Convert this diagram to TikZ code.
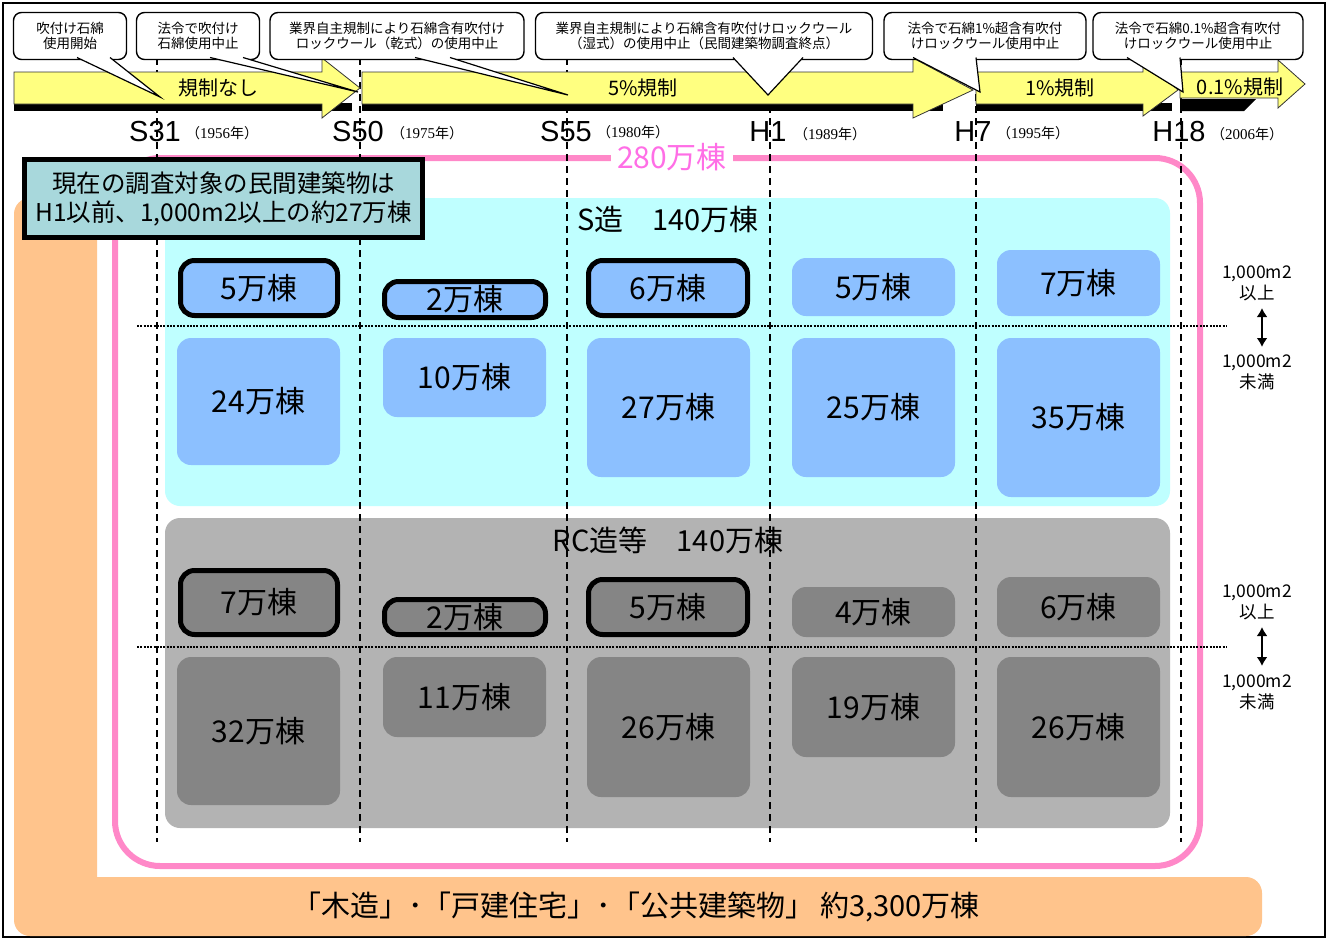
\documentclass[tikz,border=0pt]{standalone}
\usepackage{fontspec}
\setmainfont{Noto Sans CJK JP}
\newfontfamily\lat{Liberation Sans}
\newfontfamily\ser{Liberation Serif}
\usetikzlibrary{arrows.meta}
\definecolor{yel}{HTML}{FFFF80}
\definecolor{cyanbg}{HTML}{BFFFFF}
\definecolor{blueb}{HTML}{8CC0FF}
\definecolor{graybg}{HTML}{B3B3B3}
\definecolor{grayd}{HTML}{858585}
\definecolor{orangebg}{HTML}{FFC48C}
\definecolor{pinkline}{HTML}{FF88C8}
\definecolor{pinktxt}{HTML}{FF6EE6}
\definecolor{tealbox}{HTML}{A8D8DC}
\newcommand{\yrtxt}[1]{（{\ser\fontsize{15}{16}\selectfont #1}年）}
\begin{document}
\begin{tikzpicture}[x=1pt,y=-1pt,
  callout/.style={draw=black, fill=white, line width=1.4, rounded corners=8, inner sep=0, align=center, font=\fontsize{13.5}{15.5}\selectfont},
  ptr/.style={draw=black, line width=1.2},
  arr/.style={fill=yel, draw=black!80, line width=0.8},
  shad/.style={fill=black},
  arrlbl/.style={font=\fontsize{20}{22}\selectfont, inner sep=0},
  era/.style={font=\lat\fontsize{29}{30}\selectfont, inner sep=0},
  yr/.style={font=\fontsize{14}{15}\selectfont, inner sep=0, anchor=west},
  vline/.style={black, line width=1.6, dash pattern=on 7 off 5},
  hline/.style={black, line width=1.4, dash pattern=on 2 off 1.3},
  sb/.style={fill=blueb, rounded corners=14, inner sep=0, font=\fontsize{30}{32}\selectfont},
  sbk/.style={sb, draw=black, line width=5},
  rb/.style={fill=grayd, rounded corners=14, inner sep=0, font=\fontsize{30}{32}\selectfont},
  rbk/.style={rb, draw=black, line width=5},
  side/.style={align=center, inner sep=0, font=\fontsize{17.5}{21}\selectfont},
  dbl/.style={{Latex[length=9,width=11]}-{Latex[length=9,width=11]}, line width=2.4}
]
\useasboundingbox (0,0) rectangle (1328,940);
\fill[white] (0,0) rectangle (1328,940);
\draw[line width=1.2] (3,3) rectangle (1325,937);

% orange L region
\fill[orangebg] (97,877) -- (97,198) [rounded corners=16] -- (14,198) -- (14,936) -- (1262,936) -- (1262,877) [sharp corners] -- cycle;
\node[inner sep=0, font=\fontsize{29}{31}\selectfont] (bottomtxt) at (636,907) {「木造」･「戸建住宅」･「公共建築物」 約3,300万棟};

% pink frame
\draw[pinkline, line width=6, rounded corners=45] (115,158) rectangle (1200,866);

% cyan and gray regions
\fill[cyanbg, rounded corners=15] (165,198) rectangle (1170,506);
\fill[graybg, rounded corners=15] (165,518) rectangle (1170,828);
\node[inner sep=0, font=\fontsize{29}{31}\selectfont] (stitle) at (668,220) {S造　140万棟};
\node[inner sep=0, font=\fontsize{29}{31}\selectfont] (rctitle) at (668,540) {RC造等　140万棟};

% vertical dashed lines
\foreach \xx/\nm in {157/l1,360/l2,567/l3,770/l4,976/l5,1181/l6}{
  \coordinate (\nm t) at (\xx,58);
  \coordinate (\nm b) at (\xx,842);
  \draw[vline] (\nm t) -- (\nm b);
}
% horizontal dotted lines
\coordinate (h1a) at (137,326); \coordinate (h1b) at (1227,326);
\coordinate (h2a) at (137,647); \coordinate (h2b) at (1227,647);
\draw[hline] (h1a) -- (h1b);
\draw[hline] (h2a) -- (h2b);

% 280 label
\node[fill=white, inner xsep=6, inner ysep=1, text=pinktxt, font=\fontsize{30}{32}\selectfont] (total) at (672,157) {280万棟};

% S boxes
\node[sbk, minimum width=157, minimum height=55] (s1) at (259,288) {5万棟};
\node[sbk, minimum width=161, minimum height=36] (s2) at (465,299.5) {2万棟};
\node[sbk, minimum width=159, minimum height=55] (s3) at (668,288) {6万棟};
\node[sb, minimum width=163, minimum height=58] (s4) at (873.5,287) {5万棟};
\node[sb, minimum width=163, minimum height=66] (s5) at (1078.5,283) {7万棟};
\node[sb, minimum width=163, minimum height=127] (s6) at (258.5,401.5) {24万棟};
\node[sb, minimum width=163, minimum height=79] (s7) at (464.5,377.5) {10万棟};
\node[sb, minimum width=163, minimum height=139] (s8) at (668.5,407.5) {27万棟};
\node[sb, minimum width=163, minimum height=139] (s9) at (873.5,407.5) {25万棟};
\node[sb, minimum width=163, minimum height=159] (s10) at (1078.5,417.5) {35万棟};

% RC boxes
\node[rbk, minimum width=157, minimum height=64] (r1) at (259,602.5) {7万棟};
\node[rbk, minimum width=161, minimum height=35] (r2) at (465,617) {2万棟};
\node[rbk, minimum width=159, minimum height=55] (r3) at (668,607) {5万棟};
\node[rb, minimum width=163, minimum height=50] (r4) at (873.5,612) {4万棟};
\node[rb, minimum width=163, minimum height=60] (r5) at (1078.5,607) {6万棟};
\node[rb, minimum width=163, minimum height=148] (r6) at (258.5,731) {32万棟};
\node[rb, minimum width=163, minimum height=80] (r7) at (464.5,697) {11万棟};
\node[rb, minimum width=163, minimum height=140] (r8) at (668.5,727) {26万棟};
\node[rb, minimum width=163, minimum height=100] (r9) at (873.5,707) {19万棟};
\node[rb, minimum width=163, minimum height=140] (r10) at (1078.5,727) {26万棟};

% right side labels
\node[side] (su) at (1257,283) {1,000m2\\以上};
\node[side] (sd) at (1257,372) {1,000m2\\未満};
\draw[dbl] (1262,308) -- (1262,347);
\node[side] (ru) at (1257,602) {1,000m2\\以上};
\node[side] (rd) at (1257,692) {1,000m2\\未満};
\draw[dbl] (1262,627) -- (1262,666);

% info box
\node[draw=black, fill=tealbox, line width=5, minimum width=398, minimum height=78, inner sep=0, align=center, font=\fontsize{24.5}{29}\selectfont] (info) at (223.5,198.5) {現在の調査対象の民間建築物は\\H1以前、1,000m2以上の約27万棟};

% era labels
\node[era] (e1) at (155,132) {S31};
\node[yr] (y1) at (186,133) {\yrtxt{1956}};
\node[era] (e2) at (358,132) {S50};
\node[yr] (y2) at (391,133) {\yrtxt{1975}};
\node[era] (e3) at (566,132) {S55};
\node[yr] (y3) at (597,132) {\yrtxt{1980}};
\node[era] (e4) at (768,132) {H1};
\node[yr] (y4) at (794,134) {\yrtxt{1989}};
\node[era] (e5) at (973,132) {H7};
\node[yr] (y5) at (997,133) {\yrtxt{1995}};
\node[era] (e6) at (1179,132) {H18};
\node[yr] (y6) at (1211,134) {\yrtxt{2006}};

% timeline arrows
\fill[shad] (14,103) rectangle (352,111);
\draw[arr] (14,72) -- (322,72) -- (322,58) -- (360,88) -- (322,118) -- (322,104) -- (14,104) -- cycle;
\node[arrlbl] (a1) at (218,88) {規制なし};
\fill[shad] (362,103) rectangle (943,111);
\draw[arr] (362,72) -- (913,72) -- (913,58) -- (973,90) -- (913,118) -- (913,104) -- (362,104) -- cycle;
\node[arrlbl] (a2) at (643,88) {5\%規制};
\fill[shad] (976,103) rectangle (1172,111);
\fill[shad] (1180,99) -- (1256,99) -- (1244,111) -- (1180,111) -- cycle;
\draw[arr] (976,72) -- (1143,72) -- (1143,58) -- (1178,90) -- (1143,116) -- (1143,104) -- (976,104) -- cycle;
\node[arrlbl] (a3) at (1060,88) {1\%規制};
\draw[arr] (1180,72) -- (1278,72) -- (1278,60) -- (1305,84) -- (1278,108) -- (1278,98) -- (1180,98) -- cycle;
\node[arrlbl] (a4) at (1240,87) {0.1\%規制};

% callouts
\node[callout, minimum width=113, minimum height=47] (c1) at (70,36) {吹付け石綿\\使用開始};
\node[callout, minimum width=123, minimum height=47] (c2) at (198,36) {法令で吹付け\\石綿使用中止};
\node[callout, minimum width=254, minimum height=47] (c3) at (397,36) {業界自主規制により石綿含有吹付け\\ロックウール（乾式）の使用中止};
\node[callout, minimum width=337, minimum height=47] (c4) at (704,36) {業界自主規制により石綿含有吹付けロックウール\\（湿式）の使用中止（民間建築物調査終点）};
\node[callout, minimum width=202, minimum height=47] (c5) at (985,36) {法令で石綿1\%超含有吹付\\けロックウール使用中止};
\node[callout, minimum width=210, minimum height=47] (c6) at (1198,36) {法令で石綿0.1\%超含有吹付\\けロックウール使用中止};

% pointers
\foreach \nm/\ax/\bx/\tx/\ty in {p1/77/110/160/97, p2/210/243/358/92, p3/415/450/568/95, p4/733/803/768/95, p5/913/976/980/92, p6/1127/1180/1183/92}{
  \coordinate (\nm a) at (\ax,57.5);
  \coordinate (\nm b) at (\bx,57.5);
  \coordinate (\nm t) at (\tx,\ty);
  \fill[white] (\nm a) -- (\nm t) -- (\nm b) -- cycle;
  \draw[ptr] (\nm a) -- (\nm t) -- (\nm b);
}
\end{tikzpicture}
\end{document}
